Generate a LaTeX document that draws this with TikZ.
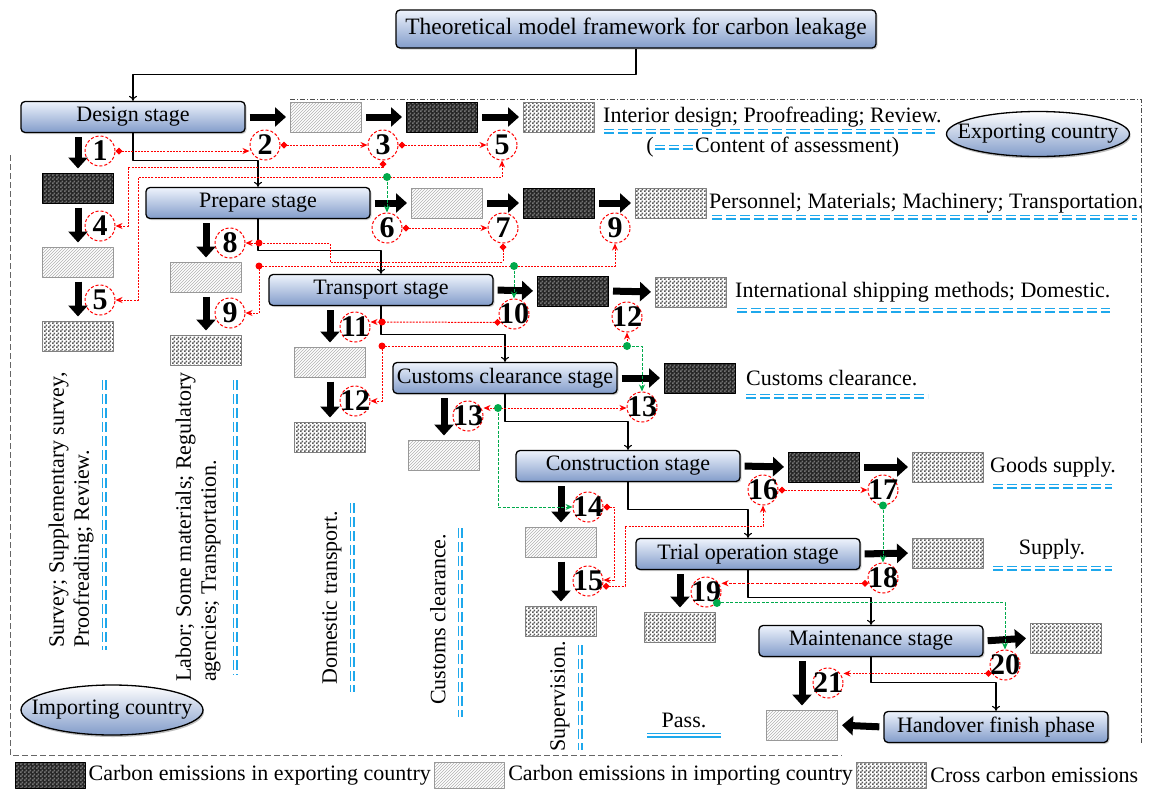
\documentclass[tikz,border=0pt]{standalone}
\usepackage{fontspec}
\setmainfont{Liberation Serif}
\usetikzlibrary{positioning,arrows.meta,shapes,shadows,patterns,calc}

\definecolor{stagetop}{RGB}{238,243,252}
\definecolor{stagebot}{RGB}{130,156,202}
\definecolor{assess}{RGB}{30,168,236}
\definecolor{passgreen}{RGB}{0,170,75}
\newcommand{\labfont}{\fontsize{22}{25}\selectfont}
\newcommand{\numfont}{\bfseries\fontsize{30}{30}\selectfont}

\pgfdeclarepatternformonly{finechecker}{\pgfpointorigin}{\pgfqpoint{4pt}{4pt}}{\pgfqpoint{4pt}{4pt}}{
\pgfpathrectangle{\pgfpointorigin}{\pgfqpoint{2pt}{2pt}}
\pgfpathrectangle{\pgfqpoint{2pt}{2pt}}{\pgfqpoint{2pt}{2pt}}
\pgfusepath{fill}
}

\tikzstyle{stage} = [
rectangle,
rounded corners=4pt,
line width=1.3pt,
minimum width=224pt,
minimum height=31pt,
inner sep=2pt,
draw=black,
top color=stagetop,
bottom color=stagebot,
drop shadow={shadow xshift=1.5pt,shadow yshift=-1.5pt,opacity=0.35},
font=\labfont
]
\tikzstyle{topbox} = [
stage,
minimum width=480pt,
minimum height=38pt,
font=\fontsize{23.5}{25}\selectfont
]
\tikzstyle{country} = [
ellipse,
line width=1.3pt,
draw=black,
top color=white,
bottom color=stagebot,
minimum width=183pt,
minimum height=45pt,
inner sep=0pt,
drop shadow={shadow xshift=1pt,shadow yshift=-2pt,opacity=0.5}
]
\tikzstyle{cbox} = [rectangle, minimum width=71pt, minimum height=30pt, inner sep=0pt, line width=1pt]
\tikzstyle{expbox} = [cbox, draw=black, preaction={fill=black!85}, pattern=finechecker, pattern color=black!55]
\tikzstyle{impbox} = [cbox, draw=gray!80, pattern=north east lines, pattern color=gray!60]
\tikzstyle{crossbox} = [cbox, draw=gray, pattern=finechecker, pattern color=black!65]
\tikzstyle{num} = [
circle,
draw=red,
line width=1pt,
dash pattern=on 3pt off 2pt,
fill=white,
minimum size=30pt,
inner sep=-5pt,
font=\numfont
]
\tikzstyle{bigarrow} = [line width=7pt, -{Triangle[length=11pt,width=19pt]}, shorten <=4pt, shorten >=4pt]
\tikzstyle{stageflow} = [line width=1.1pt, -{To[length=5pt,width=8pt]}]
\tikzstyle{rlink} = [red, line width=1pt, dash pattern=on 2pt off 1.2pt, -{Stealth[length=7pt,width=6pt]}]
\tikzstyle{rdlink} = [rlink, {Diamond[length=7pt,width=7pt]}-{Stealth[length=7pt,width=6pt]}]
\tikzstyle{glink} = [passgreen, line width=1pt, dash pattern=on 3pt off 1.5pt, -{Stealth[length=7pt,width=6pt]}]
\tikzstyle{rdot} = [circle, fill=red, inner sep=0pt, minimum size=7pt]
\tikzstyle{gdot} = [circle, fill=passgreen, inner sep=0pt, minimum size=8pt]
\tikzstyle{note} = [inner sep=1pt, font=\labfont]
\tikzstyle{vnote} = [note, rotate=90, anchor=west, align=left]
\tikzstyle{bline} = [draw=assess, line width=1.7pt, double=white, double distance=1.6pt, dash pattern=on 10pt off 4pt]

\begin{document}
\begin{tikzpicture}[x=1pt, y=-1pt, line join=round]
\useasboundingbox[fill=white] (0,0) rectangle (1157,788);

% country regions
\draw[black!70, line width=0.8pt, dash pattern=on 5pt off 2pt on 1pt off 2pt] (290,99) -- (1141,99) -- (1141,743);
\draw[black!60, line width=0.9pt, dash pattern=on 6pt off 3pt] (10,155) -- (10,755) -- (842,755);

% stages
\node[topbox] (frame) at (636,29) {Theoretical model framework for carbon leakage};
\node[stage] (design) at (133,117) {Design stage};
\node[stage] (prepare) at (258,203) {Prepare stage};
\node[stage] (transport) at (381,290) {Transport stage};
\node[stage] (customs) at (505,378) {Customs clearance stage};
\node[stage] (build) at (628,466) {Construction stage};
\node[stage] (trial) at (748,554) {Trial operation stage};
\node[stage] (maint) at (871,641) {Maintenance stage};
\node[stage] (handover) at (996,727) {Handover finish phase};

\draw[stageflow] (frame.south) -- ++(0,26) -| (design.north);
\draw[stageflow] (design.south) -- ++(0,27) -| (prepare.north);
\draw[stageflow] (prepare.south) -- ++(0,31) -| (transport.north);
\draw[stageflow] (transport.south) -- ++(0,28) -| (customs.north);
\draw[stageflow] (customs.south) -- ++(0,27) -| (build.north);
\draw[stageflow] (build.south) -- ++(0,27) -| (trial.north);
\draw[stageflow] (trial.south) -- ++(0,27) -| (maint.north);
\draw[stageflow] (maint.south) -- ++(0,25) -| (handover.north);

% emission boxes
\node[impbox] (dr1) at (326,117) {};
\node[expbox] (dr2) at (442,117) {};
\node[crossbox] (dr3) at (559,117) {};
\node[expbox] (dc1) at (78,188) {};
\node[impbox] (dc2) at (78,262) {};
\node[crossbox] (dc3) at (78,336) {};
\node[impbox] (pr1) at (447,203) {};
\node[expbox] (pr2) at (559,203) {};
\node[crossbox] (pr3) at (671,203) {};
\node[impbox] (pc1) at (206,277) {};
\node[crossbox] (pc2) at (206,350) {};
\node[expbox] (tr1) at (573,291) {};
\node[crossbox] (tr2) at (691,292) {};
\node[impbox] (tc1) at (330,362) {};
\node[crossbox] (tc2) at (330,437) {};
\node[expbox] (cr1) at (700,378) {};
\node[impbox] (cc1) at (444,455) {};
\node[expbox] (kr1) at (824,467) {};
\node[crossbox] (kr2) at (948,467) {};
\node[impbox] (kc1) at (561,542) {};
\node[crossbox] (kc2) at (561,621) {};
\node[crossbox] (or1) at (948,553) {};
\node[crossbox] (oc1) at (680,627) {};
\node[crossbox] (mr1) at (1066,638) {};
\node[impbox] (mc1) at (802,725) {};

% assessment points
\node[num] (n1) at (100,151) {1};
\node[num] (n2) at (265,145) {2};
\node[num] (n3) at (383,145) {3};
\node[num] (n5r) at (502,145) {5};
\node[num] (n4) at (100,226) {4};
\node[num] (n5c) at (100,300) {5};
\node[num] (n6) at (387,228) {6};
\node[num] (n7) at (503,228) {7};
\node[num] (n9r) at (615,228) {9};
\node[num] (n8) at (230,243) {8};
\node[num] (n9c) at (230,313) {9};
\node[num] (n10) at (514,314) {10};
\node[num] (n12r) at (627,317) {12};
\node[num] (n11) at (355,327) {11};
\node[num] (n12c) at (355,401) {12};
\node[num] (n13r) at (642,407) {13};
\node[num] (n13c) at (468,416) {13};
\node[num] (n14) at (588,507) {14};
\node[num] (n15) at (588,581) {15};
\node[num] (n16) at (763,490) {16};
\node[num] (n17) at (883,490) {17};
\node[num] (n18) at (883,578) {18};
\node[num] (n19) at (706,592) {19};
\node[num] (n20) at (1005,665) {20};
\node[num] (n21) at (828,683) {21};

% emission flows
\draw[bigarrow] (design.east) -- (dr1.west);
\draw[bigarrow] (dr1.east) -- (dr2.west);
\draw[bigarrow] (dr2.east) -- (dr3.west);
\draw[bigarrow] (design.south -| dc1.north) -- (dc1.north);
\draw[bigarrow] (dc1.south) -- (dc2.north);
\draw[bigarrow] (dc2.south) -- (dc3.north);
\draw[bigarrow] (prepare.east) -- (pr1.west);
\draw[bigarrow] (pr1.east) -- (pr2.west);
\draw[bigarrow] (pr2.east) -- (pr3.west);
\draw[bigarrow] (prepare.south -| pc1.north) -- (pc1.north);
\draw[bigarrow] (pc1.south) -- (pc2.north);
\draw[bigarrow] (transport.east) -- (tr1.west);
\draw[bigarrow] (tr1.east) -- (tr2.west);
\draw[bigarrow] (transport.south -| tc1.north) -- (tc1.north);
\draw[bigarrow] (tc1.south) -- (tc2.north);
\draw[bigarrow] (customs.east) -- (cr1.west);
\draw[bigarrow] (customs.south -| cc1.north) -- (cc1.north);
\draw[bigarrow] (build.east) -- (kr1.west);
\draw[bigarrow] (kr1.east) -- (kr2.west);
\draw[bigarrow] (build.south -| kc1.north) -- (kc1.north);
\draw[bigarrow] (kc1.south) -- (kc2.north);
\draw[bigarrow] (trial.east) -- (or1.west);
\draw[bigarrow] (trial.south -| oc1.north) -- (oc1.north);
\draw[bigarrow] (maint.east) -- (mr1.west);
\draw[bigarrow] (maint.south -| mc1.north) -- (mc1.north);
\draw[bigarrow] (handover.west) -- (mc1.east);

% junctions
\coordinate (a4) at (128,167);
\coordinate (g1) at (387,177);
\coordinate (j8) at (259,243);
\coordinate (j9) at (259,266);
\coordinate (g2) at (514,266);
\coordinate (j11) at (382,322);
\coordinate (j12) at (382,346);
\coordinate (g3) at (627,346);
\coordinate (g4) at (498,408);
\coordinate (a15) at (614,580);
\coordinate (a16) at (625,526);
\coordinate (g5) at (n17.south);
\coordinate (g6) at (n19.-45);

% assessment links
\draw[rdlink] (n1.east) -- (n1.east -| n2.west);
\draw[rdlink] (n2.east) -- (n3.west);
\draw[rdlink] (n3.east) -- (n5r.west);
\draw[rdlink] (n3.south) |- (a4) |- (n4.east);
\draw[rlink] (g1) -- (138,177) |- (n5c.east);
\draw[rlink] (g1) -| (n5r.south);
\draw[glink] (g1) -- (n6.north);

\draw[rdlink] (n6.east) -- (n7.west);
\draw[rdlink] (n7.south) |- (330,262) |- (j8) -- (n8.east);
\draw[rlink] (j9) -| (n9r.south);
\draw[rlink] (j9) |- (n9c.east);
\draw[glink] (g2) -- (n10.north);

\draw[rdlink] (n10.213) -- (j11) -- (j11 -| n11.east);
\draw[rlink] (j12) -| (n12r.south);
\draw[rlink] (j12) |- (n12c.east);
\draw[glink] (g3) -| (n13r.north);

\draw[rlink] (g4) -- (g4 -| n13c.east);
\draw[rlink] (g4) -- (g4 -| n13r.west);
\draw[glink] (g4) |- (n14.west);

\draw[rdlink] (n14.east) -| (a15) -- (a15 -| n15.east);
\draw[rdlink] (n15.-20) -| (a16) -| (n16.south);
\draw[rdlink] (n16.east) -- (n17.west);
\draw[glink] (g5) -- (n18.north);
\draw[rdlink, dash pattern=on 3pt off 1.5pt] (n18.200) -- (n18.200 -| n19.east);
\draw[glink] (g6) -| (n20.north);
\draw[rdlink] (n20.213) -- (n20.213 -| n21.east);

\node[gdot] (g1dot) at (g1) {};
\node[gdot] (g2dot) at (g2) {};
\node[gdot] (g3dot) at (g3) {};
\node[gdot] (g4dot) at (g4) {};
\node[gdot] (g5dot) at (g5) {};
\node[gdot] (g6dot) at (g6) {};
\node[rdot] (j8dot) at (j8) {};
\node[rdot] (j9dot) at (j9) {};
\node[rdot] (j11dot) at (j11) {};
\node[rdot] (j12dot) at (j12) {};

% contents of assessment
\node[note, right=7pt of dr3] (desnote) {Interior design; Proofreading; Review.};
\draw[bline] (604,131) -- (935,131);
\node[note, anchor=east] (lpar) at (655,147) {(};
\node[note, anchor=west] (assess) at (694,147) {Content of assessment)};
\draw[bline] (lpar.east) -- (assess.west);
\node[note, right=1pt of pr3] (prenote) {Personnel; Materials; Machinery; Transportation.};
\draw[bline] (712,217) -- (1137,217);
\node[note, right=7pt of tr2] (tranote) {International shipping methods; Domestic.};
\draw[bline] (737,310) -- (1110,310);
\node[note, right=9pt of cr1] (cusnote) {Customs clearance.};
\draw[bline] (746,396) -- (928,396);
\node[note, right=5pt of kr2] (bldnote) {Goods supply.};
\draw[bline] (993,486) -- (1112,486);
\node[note] (trinote) at (1052,549) {Supply.};
\draw[bline] (993,568) -- (1112,568);
\node[note] (passnote) at (684,720) {Pass.};
\draw[assess, line width=1.7pt, double=white, double distance=1.6pt] (647,735) -- (721,735);

\node[vnote] (desv) at (71,649) {Survey; Supplementary survey,\\Proofreading; Review.};
\draw[bline] (104,380) -- (104,650);
\node[vnote] (prev) at (198,683) {Labor; Some materials; Regulatory\\agencies; Transportation.};
\draw[bline] (235,380) -- (235,675);
\node[vnote] (trav) at (332,686) {Domestic transport.};
\draw[bline] (352,503) -- (352,692);
\node[vnote] (cusv) at (438,706) {Customs clearance.};
\draw[bline] (460,528) -- (460,717);
\node[vnote] (bldv) at (560,753) {Supervision.};
\draw[bline] (580,645) -- (580,750);

% countries
\node[country, label={[font=\labfont]center:Exporting country}] (expc) at (1038,134) {};
\node[country, minimum width=182pt, minimum height=50pt, label={[font=\labfont]center:Importing country}] (impc) at (112,710) {};

% legend
\node[expbox, minimum width=70pt, minimum height=26pt] (lgexp) at (50,775) {};
\node[note, right=2pt of lgexp] (lgexptxt) {Carbon emissions in exporting country};
\node[impbox, minimum width=70pt, minimum height=26pt, right=2pt of lgexptxt] (lgimp) {};
\node[note, right=2pt of lgimp] (lgimptxt) {Carbon emissions in importing country};
\node[crossbox, minimum width=70pt, minimum height=26pt, right=2pt of lgimptxt] (lgcross) {};
\node[note, right=2pt of lgcross] (lgcrosstxt) {Cross carbon emissions};
\end{tikzpicture}
\end{document}
